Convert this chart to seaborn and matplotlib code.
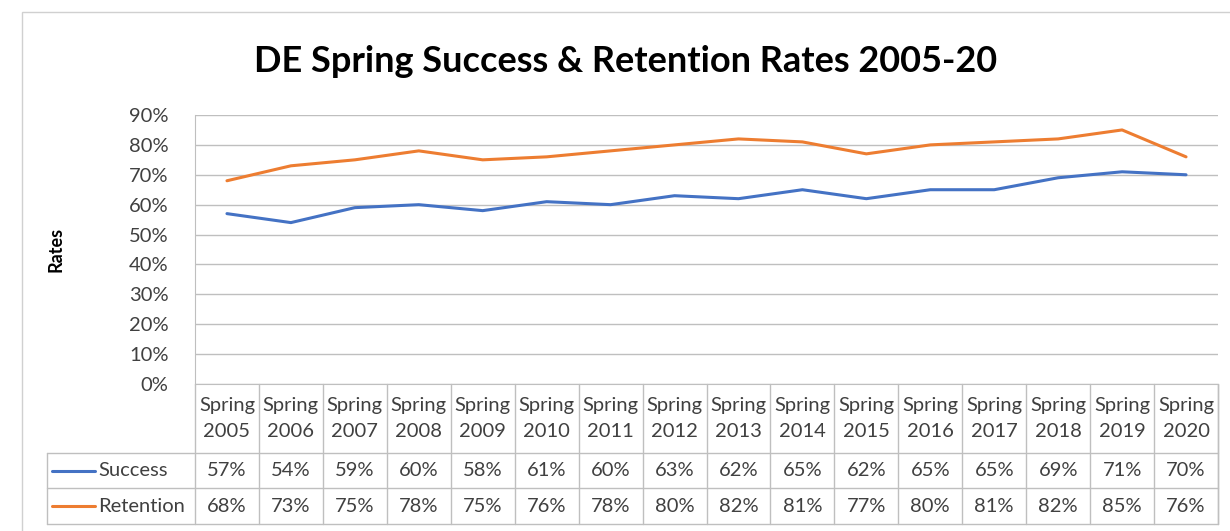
import matplotlib.pyplot as plt
import matplotlib.transforms as mtransforms
import pandas as pd
import seaborn as sns

terms = ['Spring\n2005', 'Spring\n2006', 'Spring\n2007', 'Spring\n2008',
         'Spring\n2009', 'Spring\n2010', 'Spring\n2011', 'Spring\n2012',
         'Spring\n2013', 'Spring\n2014', 'Spring\n2015', 'Spring\n2016',
         'Spring\n2017', 'Spring\n2018', 'Spring\n2019', 'Spring\n2020']
success = [57, 54, 59, 60, 58, 61, 60, 63, 62, 65, 62, 65, 65, 69, 71, 70]
retention = [68, 73, 75, 78, 75, 76, 78, 80, 82, 81, 77, 80, 81, 82, 85, 76]
yticks = [0, 10, 20, 30, 40, 50, 60, 70, 80, 90]

sns.set_style('white')
plt.rcParams['font.family'] = ['Lato', 'DejaVu Sans']

blue = '#4472C4'
orange = '#ED7D31'
grid_c = '#BFBFBF'
txt_c = '#404040'
fs = 14.5

df = pd.DataFrame({'pos': range(len(terms)), 'Success': success, 'Retention': retention})
df_long = df.melt(id_vars='pos', var_name='series', value_name='rate')

fig = plt.figure(figsize=(12.3, 5.31), dpi=100)
ax = fig.add_axes([195 / 1230, 1 - 384 / 531, (1218 - 195) / 1230, (384 - 115) / 531])

sns.lineplot(data=df_long, x='pos', y='rate', hue='series',
             palette={'Success': blue, 'Retention': orange},
             linewidth=2.2, legend=False, ax=ax)

ax.set_xlim(-0.5, len(terms) - 0.5)
ax.set_ylim(0, 90)
ax.set_yticks(yticks)
ax.set_yticklabels([f'{v}%' for v in yticks], fontsize=fs, color=txt_c)
ax.set_xticks([])
ax.set_xlabel('')
ax.set_ylabel('Rates', fontsize=13, fontweight='bold', color='black', labelpad=0)
ax.yaxis.set_label_coords(-0.128, 0.5)
ax.tick_params(axis='y', length=0, pad=19)
ax.yaxis.grid(True, color=grid_c, linewidth=1)
for s in ['top', 'right']:
    ax.spines[s].set_visible(False)
ax.spines['left'].set_color(grid_c)
ax.spines['bottom'].set_color(grid_c)

fig.text(626 / 1230, 1 - 62 / 531, 'DE Spring Success & Retention Rates 2005-20',
         ha='center', va='center', fontsize=26, fontweight='bold', color='black')

# Data table below the plot
trans = mtransforms.blended_transform_factory(ax.transData, ax.transAxes)
h = 269.0
y_hdr_bot = -(453 - 384) / h
y_row1_bot = -(488 - 384) / h
y_row2_bot = -(524 - 384) / h
x_leg = -(195 - 47) / 1023
n = len(terms)
line_kw = dict(color=grid_c, linewidth=1, clip_on=False)

for i in range(n + 1):
    ax.plot([i - 0.5, i - 0.5], [0, y_row2_bot], transform=trans, **line_kw)
for yy in [y_hdr_bot, y_row1_bot, y_row2_bot]:
    ax.plot([x_leg, 1], [yy, yy], transform=ax.transAxes, **line_kw)
ax.plot([x_leg, x_leg], [y_hdr_bot, y_row2_bot], transform=ax.transAxes, **line_kw)
ax.plot([1, 1], [0, y_row2_bot], transform=ax.transAxes, **line_kw)

for i, t in enumerate(terms):
    ax.text(i, (0 + y_hdr_bot) / 2, t, transform=trans, ha='center', va='center',
            fontsize=fs, color=txt_c, linespacing=1.7)
    ax.text(i, (y_hdr_bot + y_row1_bot) / 2, f'{success[i]}%', transform=trans,
            ha='center', va='center', fontsize=fs, color=txt_c)
    ax.text(i, (y_row1_bot + y_row2_bot) / 2, f'{retention[i]}%', transform=trans,
            ha='center', va='center', fontsize=fs, color=txt_c)

for yy, name, col in [((y_hdr_bot + y_row1_bot) / 2, 'Success', blue),
                      ((y_row1_bot + y_row2_bot) / 2, 'Retention', orange)]:
    ax.plot([x_leg + 0.005, x_leg + 0.047], [yy, yy], color=col, linewidth=2.2,
            transform=ax.transAxes, clip_on=False)
    ax.text(x_leg + 0.050, yy, name, transform=ax.transAxes, ha='left', va='center',
            fontsize=fs, color=txt_c)

# outer chart frame
fig.patches.append(plt.Rectangle((22 / 1230, -0.01), 1.02, 1 - 12 / 531 + 0.01,
                                 transform=fig.transFigure, fill=False,
                                 edgecolor='#D0D0D0', linewidth=1))

fig.savefig('out.png', dpi=100)
